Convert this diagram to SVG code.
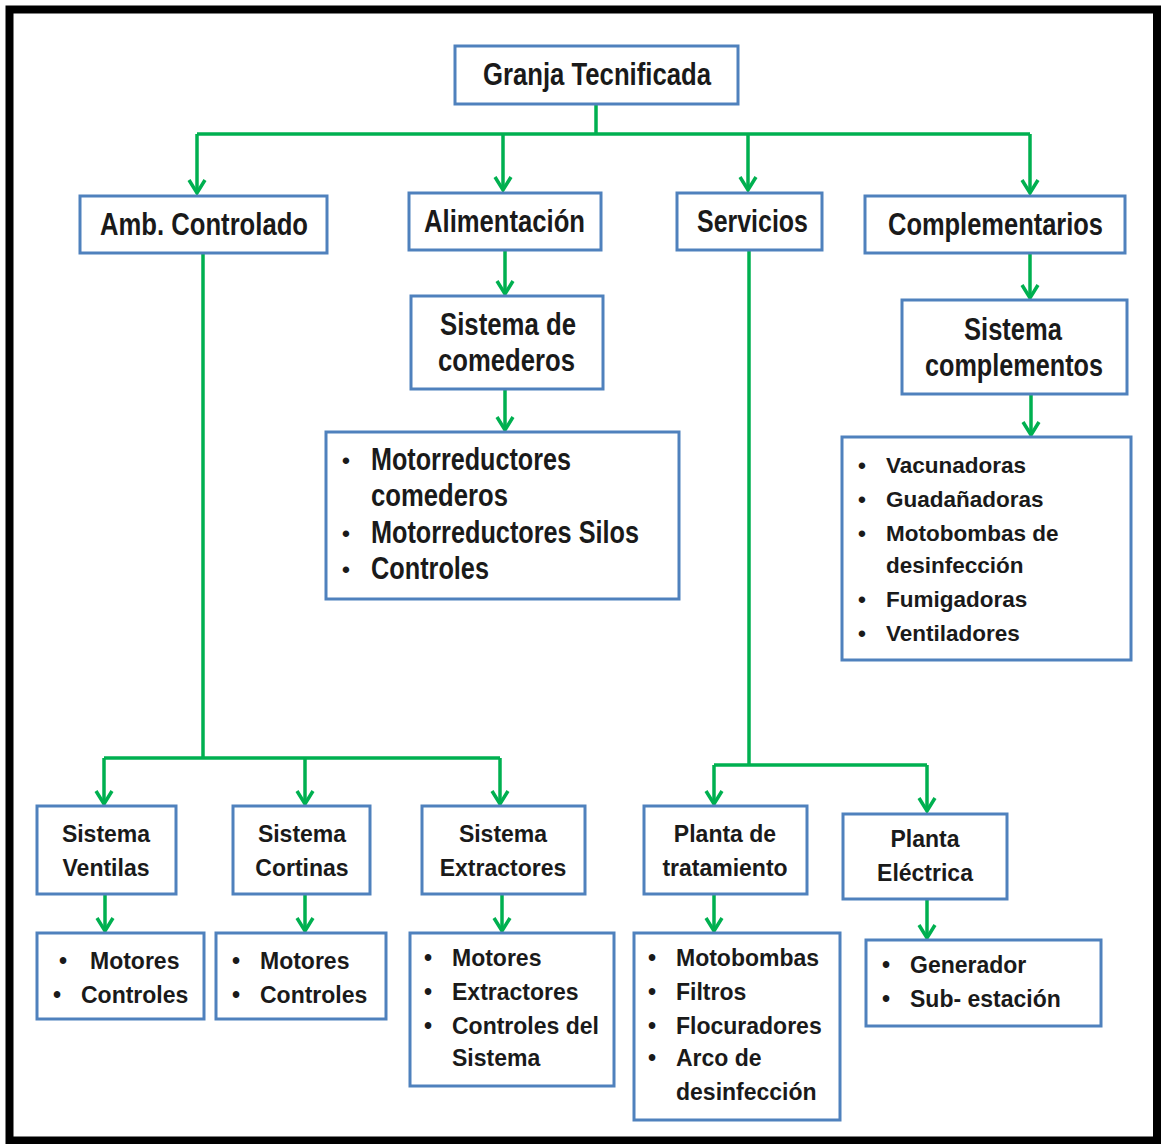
<svg xmlns="http://www.w3.org/2000/svg" width="1162" height="1144" viewBox="0 0 1162 1144">
<defs>
<style>
.box{fill:#fff;stroke:#4F81BD;stroke-width:3}
.c{fill:none;stroke:#00B050;stroke-width:3.5;stroke-linejoin:round}
.a{marker-end:url(#ah)}
.n{font-family:"Liberation Sans",Arial,sans-serif;font-weight:bold;font-size:31px;fill:#1a1a1a}
.s{font-family:"Liberation Sans",Arial,sans-serif;font-weight:bold;font-size:23px;fill:#1a1a1a}
.v{font-family:"Liberation Sans",Arial,sans-serif;font-weight:bold;font-size:22.5px;fill:#1a1a1a}
.m{text-anchor:middle}
</style>
<marker id="ah" markerUnits="userSpaceOnUse" viewBox="-16 -10 20 20" refX="0" refY="0" markerWidth="20" markerHeight="20" orient="auto" overflow="visible">
<path d="M-13,-8 L0,0 L-13,8" fill="none" stroke="#00B050" stroke-width="3.5" stroke-linejoin="miter"/>
</marker>
</defs>
<rect x="0" y="0" width="1162" height="1144" fill="#fff"/>
<rect x="9.5" y="9.5" width="1147.5" height="1131" fill="none" stroke="#000" stroke-width="8"/>

<g id="connectors">
<path class="c" d="M596,104 V134"/>
<path class="c" d="M197,134 H1030"/>
<path class="c a" d="M197,134 V193"/>
<path class="c a" d="M503,134 V190"/>
<path class="c a" d="M748,134 V190"/>
<path class="c a" d="M1030,134 V193"/>
<path class="c a" d="M505,250 V294"/>
<path class="c a" d="M505,389 V430"/>
<path class="c a" d="M1030,253 V298"/>
<path class="c a" d="M1031,394 V435"/>
<path class="c" d="M203,253 V758"/>
<path class="c" d="M104,758 H500"/>
<path class="c a" d="M104,758 V804"/>
<path class="c a" d="M305,758 V804"/>
<path class="c a" d="M500,758 V804"/>
<path class="c" d="M749,250 V765"/>
<path class="c" d="M714,765 H927"/>
<path class="c a" d="M714,765 V804"/>
<path class="c a" d="M927,765 V811"/>
<path class="c a" d="M105,894 V931"/>
<path class="c a" d="M305,894 V931"/>
<path class="c a" d="M502,894 V931"/>
<path class="c a" d="M714,894 V931"/>
<path class="c a" d="M927,899 V938"/>
</g>

<g id="granja">
<rect class="box" x="455" y="46" width="283" height="58"/>
<text class="n" x="483" y="85" textLength="228" lengthAdjust="spacingAndGlyphs">Granja Tecnificada</text>
</g>
<g id="amb">
<rect class="box" x="80" y="196" width="247" height="57"/>
<text class="n" x="100" y="235" textLength="208" lengthAdjust="spacingAndGlyphs">Amb. Controlado</text>
</g>
<g id="alimentacion">
<rect class="box" x="409" y="193" width="192" height="57"/>
<text class="n" x="424" y="232" textLength="161" lengthAdjust="spacingAndGlyphs">Alimentación</text>
</g>
<g id="servicios">
<rect class="box" x="677" y="193" width="145" height="57"/>
<text class="n" x="697" y="232" textLength="111" lengthAdjust="spacingAndGlyphs">Servicios</text>
</g>
<g id="complementarios">
<rect class="box" x="865" y="196" width="260" height="57"/>
<text class="n" x="888" y="235" textLength="215" lengthAdjust="spacingAndGlyphs">Complementarios</text>
</g>
<g id="comederos">
<rect class="box" x="411" y="296" width="192" height="93"/>
<text class="n" x="440" y="335" textLength="136" lengthAdjust="spacingAndGlyphs">Sistema de</text>
<text class="n" x="438" y="371" textLength="137" lengthAdjust="spacingAndGlyphs">comederos</text>
</g>
<g id="motorreductores">
<rect class="box" x="326" y="432" width="353" height="167"/>
<text class="v" x="342" y="468">•</text><text class="n" x="371" y="470" textLength="200" lengthAdjust="spacingAndGlyphs">Motorreductores</text>
<text class="n" x="371" y="506" textLength="137" lengthAdjust="spacingAndGlyphs">comederos</text>
<text class="v" x="342" y="541">•</text><text class="n" x="371" y="543" textLength="268" lengthAdjust="spacingAndGlyphs">Motorreductores Silos</text>
<text class="v" x="342" y="577">•</text><text class="n" x="371" y="579" textLength="118" lengthAdjust="spacingAndGlyphs">Controles</text>
</g>
<g id="sistema-complementos">
<rect class="box" x="902" y="300" width="225" height="94"/>
<text class="n" x="964" y="340" textLength="98" lengthAdjust="spacingAndGlyphs">Sistema</text>
<text class="n" x="925" y="376" textLength="178" lengthAdjust="spacingAndGlyphs">complementos</text>
</g>
<g id="complementos-lista">
<rect class="box" x="842" y="437" width="289" height="223"/>
<text class="v" x="858" y="473">•</text><text class="v" x="886" y="473">Vacunadoras</text>
<text class="v" x="858" y="507">•</text><text class="v" x="886" y="507">Guadañadoras</text>
<text class="v" x="858" y="541">•</text><text class="v" x="886" y="541">Motobombas de</text>
<text class="v" x="886" y="573">desinfección</text>
<text class="v" x="858" y="607">•</text><text class="v" x="886" y="607">Fumigadoras</text>
<text class="v" x="858" y="641">•</text><text class="v" x="886" y="641">Ventiladores</text>
</g>
<g id="ventilas">
<rect class="box" x="37" y="806" width="139" height="88"/>
<text class="s m" x="106" y="842">Sistema</text>
<text class="s m" x="106" y="876">Ventilas</text>
</g>
<g id="cortinas">
<rect class="box" x="233" y="806" width="137" height="88"/>
<text class="s m" x="302" y="842">Sistema</text>
<text class="s m" x="302" y="876">Cortinas</text>
</g>
<g id="extractores">
<rect class="box" x="422" y="806" width="163" height="88"/>
<text class="s m" x="503" y="842">Sistema</text>
<text class="s m" x="503" y="876">Extractores</text>
</g>
<g id="planta-tratamiento">
<rect class="box" x="644" y="806" width="163" height="88"/>
<text class="s m" x="725" y="842">Planta de</text>
<text class="s m" x="725" y="876">tratamiento</text>
</g>
<g id="planta-electrica">
<rect class="box" x="843" y="814" width="164" height="85"/>
<text class="s m" x="925" y="847">Planta</text>
<text class="s m" x="925" y="881">Eléctrica</text>
</g>
<g id="ventilas-lista">
<rect class="box" x="37" y="933" width="167" height="86"/>
<text class="s" x="59" y="969">•</text><text class="s" x="90" y="969">Motores</text>
<text class="s" x="53" y="1003">•</text><text class="s" x="81" y="1003">Controles</text>
</g>
<g id="cortinas-lista">
<rect class="box" x="216" y="933" width="170" height="86"/>
<text class="s" x="232" y="969">•</text><text class="s" x="260" y="969">Motores</text>
<text class="s" x="232" y="1003">•</text><text class="s" x="260" y="1003">Controles</text>
</g>
<g id="extractores-lista">
<rect class="box" x="410" y="933" width="204" height="153"/>
<text class="s" x="424" y="966">•</text><text class="s" x="452" y="966">Motores</text>
<text class="s" x="424" y="1000">•</text><text class="s" x="452" y="1000">Extractores</text>
<text class="s" x="424" y="1034">•</text><text class="s" x="452" y="1034">Controles del</text>
<text class="s" x="452" y="1066">Sistema</text>
</g>
<g id="tratamiento-lista">
<rect class="box" x="634" y="933" width="206" height="187"/>
<text class="s" x="648" y="966">•</text><text class="s" x="676" y="966">Motobombas</text>
<text class="s" x="648" y="1000">•</text><text class="s" x="676" y="1000">Filtros</text>
<text class="s" x="648" y="1034">•</text><text class="s" x="676" y="1034">Flocuradores</text>
<text class="s" x="648" y="1066">•</text><text class="s" x="676" y="1066">Arco de</text>
<text class="s" x="676" y="1100">desinfección</text>
</g>
<g id="electrica-lista">
<rect class="box" x="866" y="940" width="235" height="86"/>
<text class="s" x="882" y="973">•</text><text class="s" x="910" y="973">Generador</text>
<text class="s" x="882" y="1007">•</text><text class="s" x="910" y="1007">Sub- estación</text>
</g>
</svg>
